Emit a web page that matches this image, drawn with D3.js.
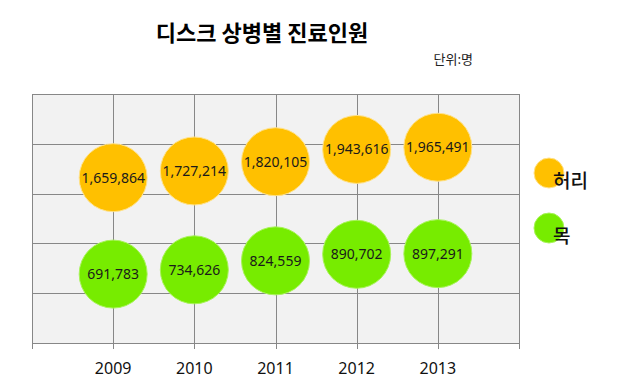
<!DOCTYPE html>
<html><head><meta charset="utf-8">
<script src="https://cdn.jsdelivr.net/npm/d3@7"></script>
<style>
body{margin:0;background:#fff;}
svg{display:block;}
</style></head>
<body>
<svg id="chart" width="622" height="382"></svg>
<script>
const years = [2009, 2010, 2011, 2012, 2013];
const seriesNames = ["허리", "목"];
const waistValues = [1659864, 1727214, 1820105, 1943616, 1965491];
const neckValues = [691783, 734626, 824559, 890702, 897291];
const bubbleSizes = [1, 1, 1, 1, 1];
const colors = ["#FFC000", "#77EC00"];
const rims = ["#FFE28A", "#A8F35A"];
const title = "디스크 상병별 진료인원";
const unitLabel = "단위:명";

(function(){
const svg = d3.select("#chart");
const kr = "'Noto Sans CJK KR','Noto Sans',sans-serif";
const pL = 32, pR = 519, pT = 94, pB = 343;

const x = d3.scaleLinear().domain([2008, 2014]).range([pL, pR]);
const y = d3.scaleLinear().domain([0, 2500000]).range([pB, pT]);
const r = d3.scaleSqrt().domain([0, 1]).range([0, 34]);

svg.append("rect").attr("x", pL).attr("y", pT).attr("width", pR - pL).attr("height", pB - pT)
  .attr("fill", "#F2F2F2");

const g = svg.append("g");
g.selectAll(".vg").data(d3.range(2008, 2015)).join("line")
  .attr("x1", d => Math.round(x(d)) + 0.5).attr("x2", d => Math.round(x(d)) + 0.5)
  .attr("y1", pT).attr("y2", pB + 6)
  .attr("stroke", "#878787").attr("stroke-width", 1);
g.selectAll(".hg").data(y.ticks(5)).join("line")
  .attr("x1", pL).attr("x2", pR + 1)
  .attr("y1", d => Math.round(y(d)) + 0.5).attr("y2", d => Math.round(y(d)) + 0.5)
  .attr("stroke", "#878787").attr("stroke-width", 1);

svg.append("g").selectAll("text").data(years).join("text")
  .attr("x", d => x(d)).attr("y", 374)
  .attr("text-anchor", "middle")
  .attr("font-family", "'Noto Sans',sans-serif").attr("font-size", 16).attr("fill", "#111")
  .text(d => d);

const series = [waistValues, neckValues];
series.forEach((vals, si) => {
  const data = vals.map((v, i) => ({year: years[i], v, s: bubbleSizes[i]}));
  const bg = svg.append("g");
  bg.selectAll("circle").data(data).join("circle")
    .attr("cx", d => x(d.year)).attr("cy", d => y(d.v)).attr("r", d => r(d.s))
    .attr("fill", colors[si]).attr("stroke", rims[si]).attr("stroke-width", 1);
  bg.selectAll("text").data(data).join("text")
    .attr("x", d => x(d.year)).attr("y", d => y(d.v) + 5)
    .attr("text-anchor", "middle")
    .attr("font-family", "'Noto Sans',sans-serif").attr("font-size", 14).attr("fill", "#1a1a1a")
    .text(d => d3.format(",")(d.v));
});

svg.append("text").attr("x", 262).attr("y", 41).attr("text-anchor", "middle")
  .attr("font-family", kr).attr("font-weight", "bold").attr("font-size", 22).attr("fill", "#000")
  .text(title);
svg.append("text").attr("x", 473).attr("y", 64).attr("text-anchor", "end")
  .attr("font-family", kr).attr("font-size", 13).attr("fill", "#222")
  .text(unitLabel);

const lg = svg.append("g");
const legendY = [173, 228];
seriesNames.forEach((name, i) => {
  lg.append("circle").attr("cx", 549).attr("cy", legendY[i]).attr("r", 15)
    .attr("fill", colors[i]).attr("stroke", rims[i]).attr("stroke-width", 1);
  lg.append("text").attr("x", 553).attr("y", legendY[i] + 15)
    .attr("font-family", kr).attr("font-weight", 500).attr("font-size", 19).attr("fill", "#111")
    .text(name);
});
})();
</script>
</body></html>
